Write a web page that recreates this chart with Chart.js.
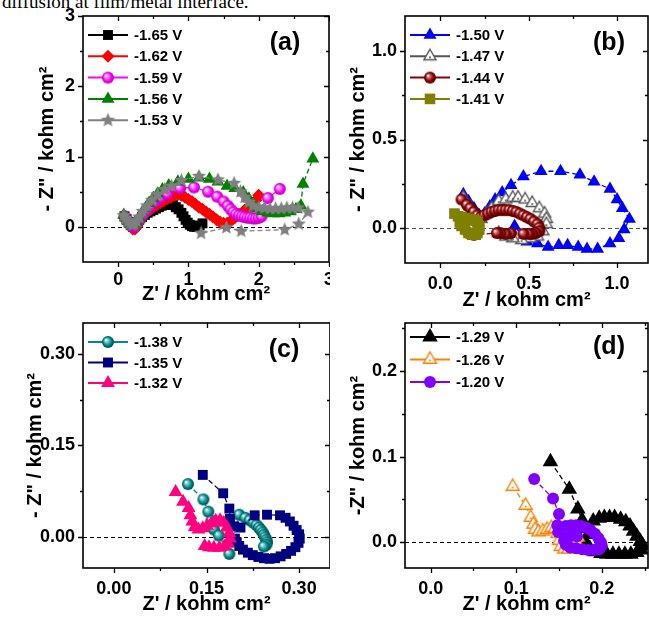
<!DOCTYPE html>
<html>
<head>
<meta charset="utf-8">
<title>Impedance spectra</title>
<script src="https://cdn.jsdelivr.net/npm/chart.js@4.4.1/dist/chart.umd.min.js"></script>
<style>
  html, body { margin: 0; padding: 0; background: #fff; }
  body { width: 649px; height: 618px; position: relative; overflow: hidden; }
  .cap { position: absolute; left: 2px; top: -8px; font: 19px 'Liberation Serif', 'Times New Roman', serif; line-height: 20px; color: #000; white-space: nowrap; }
  canvas { position: absolute; }
</style>
</head>
<body>
<div class="cap">diffusion at film/metal interface.</div>
<canvas id="chartA" width="330" height="320" style="left:0;top:0"></canvas>
<canvas id="chartB" width="319" height="320" style="left:330px;top:0"></canvas>
<canvas id="chartC" width="330" height="318" style="left:0;top:300px"></canvas>
<canvas id="chartD" width="319" height="318" style="left:330px;top:300px"></canvas>
<script>
// ---------- data: [Z', -Z''] in kohm cm2 ----------

// panel (a)
const namesA = ['-1.65 V', '-1.62 V', '-1.59 V', '-1.56 V', '-1.53 V'];
const a165 = [[0.09,0.15],[0.12,0.11],[0.15,0.07],[0.18,0.03],[0.21,0.0],[0.24,0.01],[0.27,0.05],[0.3,0.1],[0.34,0.14],[0.38,0.17],[0.42,0.2],[0.46,0.22],[0.5,0.24],[0.54,0.26],[0.58,0.28],[0.62,0.3],[0.66,0.31],[0.7,0.32],[0.74,0.33],[0.78,0.31],[0.82,0.28],[0.86,0.25],[0.9,0.2],[0.93,0.15],[0.96,0.1],[0.99,0.06],[1.02,0.03],[1.05,0.01],[1.08,0.0],[1.12,0.0],[1.16,0.02],[1.2,0.05]];
const a162 = [[0.09,0.13],[0.12,0.09],[0.15,0.05],[0.18,0.0],[0.21,-0.03],[0.24,-0.03],[0.27,0.01],[0.3,0.07],[0.34,0.13],[0.38,0.18],[0.42,0.22],[0.46,0.25],[0.5,0.28],[0.55,0.31],[0.6,0.34],[0.65,0.37],[0.7,0.4],[0.75,0.42],[0.8,0.45],[0.85,0.46],[0.9,0.45],[0.95,0.42],[1.0,0.39],[1.05,0.36],[1.1,0.32],[1.15,0.28],[1.2,0.25],[1.25,0.21],[1.3,0.18],[1.35,0.14],[1.4,0.1],[1.45,0.07],[1.5,0.05],[1.55,0.05],[1.6,0.08],[1.66,0.13],[1.72,0.18],[1.8,0.24],[1.88,0.3],[1.96,0.38],[2.0,0.45]];
const a159 = [[0.09,0.15],[0.12,0.1],[0.15,0.06],[0.18,0.02],[0.21,0.0],[0.24,0.01],[0.27,0.05],[0.31,0.11],[0.35,0.17],[0.4,0.23],[0.46,0.3],[0.53,0.36],[0.6,0.41],[0.7,0.47],[0.88,0.55],[1.08,0.56],[1.28,0.5],[1.41,0.43],[1.5,0.36],[1.56,0.3],[1.6,0.25],[1.64,0.21],[1.68,0.18],[1.72,0.16],[1.76,0.15],[1.8,0.14],[1.84,0.13],[1.88,0.13],[1.92,0.12],[1.96,0.12],[2.0,0.13],[2.04,0.15],[2.13,0.41],[2.3,0.54]];
const a156 = [[0.08,0.17],[0.11,0.13],[0.14,0.08],[0.17,0.04],[0.2,0.02],[0.23,0.03],[0.26,0.07],[0.3,0.13],[0.34,0.2],[0.39,0.27],[0.44,0.34],[0.5,0.41],[0.56,0.47],[0.63,0.53],[0.72,0.59],[0.85,0.64],[1.0,0.68],[1.15,0.7],[1.3,0.68],[1.42,0.64],[1.55,0.58],[1.66,0.55],[1.78,0.49],[1.86,0.4],[1.92,0.32],[1.98,0.26],[2.05,0.22],[2.13,0.2],[2.21,0.19],[2.29,0.19],[2.37,0.2],[2.45,0.22],[2.53,0.25],[2.6,0.3],[2.63,0.61],[2.77,0.97]];
const a153 = [[0.08,0.16],[0.11,0.12],[0.14,0.08],[0.17,0.05],[0.2,0.03],[0.23,0.04],[0.26,0.08],[0.3,0.14],[0.35,0.22],[0.41,0.3],[0.48,0.38],[0.56,0.46],[0.66,0.53],[0.76,0.58],[0.9,0.66],[1.15,0.72],[1.42,0.67],[1.65,0.62],[1.74,0.5],[1.8,0.42],[1.86,0.35],[1.92,0.3],[2.0,0.28],[2.08,0.27],[2.16,0.26],[2.24,0.26],[2.32,0.26],[2.4,0.27],[2.48,0.27],[2.56,0.27],[2.7,0.21],[2.57,0.04],[2.37,-0.04],[1.75,-0.06],[1.54,-0.01],[1.18,-0.09]];

// panel (b)
const namesB = ['-1.50 V', '-1.47 V', '-1.44 V', '-1.41 V'];
const b150 = [[0.13,0.19],[0.16,0.15],[0.19,0.11],[0.22,0.07],[0.25,0.08],[0.28,0.12],[0.31,0.16],[0.35,0.2],[0.4,0.24],[0.47,0.29],[0.57,0.32],[0.68,0.32],[0.79,0.3],[0.87,0.26],[0.96,0.22],[1.0,0.16],[1.03,0.11],[1.07,0.05],[1.04,-0.01],[1.01,-0.06],[0.96,-0.09],[0.89,-0.12],[0.83,-0.12],[0.78,-0.11],[0.72,-0.1],[0.67,-0.1],[0.61,-0.11],[0.55,-0.09],[0.49,-0.08],[0.42,0.01]];
const b147 = [[0.13,0.17],[0.17,0.12],[0.2,0.07],[0.23,0.05],[0.26,0.08],[0.29,0.11],[0.33,0.15],[0.37,0.16],[0.41,0.17],[0.44,0.17],[0.48,0.16],[0.52,0.14],[0.56,0.11],[0.59,0.08],[0.6,0.05],[0.6,0.02],[0.58,-0.02],[0.55,-0.05],[0.51,-0.06],[0.46,-0.07],[0.41,-0.06],[0.37,-0.05],[0.33,-0.03]];
const b144 = [[0.12,0.16],[0.15,0.13],[0.17,0.11],[0.19,0.09],[0.21,0.07],[0.23,0.06],[0.25,0.07],[0.27,0.08],[0.29,0.09],[0.31,0.095],[0.33,0.1],[0.35,0.1],[0.37,0.1],[0.39,0.1],[0.41,0.095],[0.43,0.09],[0.45,0.08],[0.47,0.07],[0.49,0.06],[0.51,0.05],[0.53,0.035],[0.55,0.02],[0.56,0.0],[0.56,-0.02],[0.54,-0.03],[0.52,-0.035],[0.5,-0.035],[0.47,-0.035],[0.4,-0.03],[0.37,-0.035],[0.34,-0.03],[0.32,-0.03],[0.19,-0.04],[0.16,-0.03]];
const b141 = [[0.08,0.08],[0.1,0.065],[0.12,0.06],[0.14,0.055],[0.16,0.05],[0.18,0.045],[0.2,0.04],[0.21,0.03],[0.22,0.01],[0.22,-0.01],[0.21,-0.03],[0.2,-0.04],[0.18,-0.04],[0.16,-0.03],[0.14,-0.01],[0.12,0.01],[0.11,0.03]];

// panel (c)
const namesC = ['-1.38 V', '-1.35 V', '-1.32 V'];
const c138 = [[0.12,0.087],[0.145,0.062],[0.153,0.042],[0.158,0.027],[0.162,0.013],[0.17,0.003],[0.187,-0.027],[0.203,0.037],[0.213,0.032],[0.22,0.028],[0.226,0.024],[0.231,0.02],[0.235,0.016],[0.238,0.012],[0.241,0.008],[0.243,0.004],[0.245,0.0],[0.247,-0.004],[0.248,-0.008],[0.247,-0.012],[0.243,-0.015]];
const c135 = [[0.144,0.102],[0.177,0.072],[0.187,0.047],[0.188,0.03],[0.195,0.018],[0.205,0.016],[0.228,0.036],[0.248,0.037],[0.269,0.036],[0.278,0.032],[0.285,0.026],[0.291,0.019],[0.296,0.012],[0.3,0.005],[0.301,-0.002],[0.299,-0.009],[0.294,-0.016],[0.287,-0.022],[0.279,-0.027],[0.27,-0.031],[0.261,-0.034],[0.252,-0.035],[0.243,-0.034],[0.234,-0.032],[0.225,-0.029],[0.217,-0.025],[0.209,-0.02],[0.203,-0.014],[0.199,-0.008],[0.196,-0.002]];
const c132 = [[0.1,0.074],[0.112,0.058],[0.121,0.048],[0.124,0.036],[0.127,0.026],[0.131,0.017],[0.137,0.013],[0.144,0.015],[0.151,0.019],[0.158,0.023],[0.165,0.027],[0.172,0.028],[0.178,0.024],[0.183,0.016],[0.187,0.007],[0.188,-0.002],[0.185,-0.01],[0.179,-0.015],[0.171,-0.017],[0.162,-0.017],[0.154,-0.016],[0.147,-0.014]];

// panel (d)
const namesD = ['-1.29 V', '-1.26 V', '-1.20 V'];
const d129 = [[0.14,0.094],[0.162,0.062],[0.172,0.039],[0.177,0.026],[0.18,0.016],[0.184,0.009],[0.19,0.025],[0.197,0.028],[0.203,0.029],[0.209,0.029],[0.215,0.029],[0.222,0.027],[0.228,0.024],[0.233,0.019],[0.237,0.013],[0.241,0.007],[0.245,0.001],[0.248,-0.004],[0.246,-0.009],[0.241,-0.012],[0.234,-0.014],[0.227,-0.014],[0.22,-0.014],[0.213,-0.014],[0.206,-0.014],[0.199,-0.013],[0.192,-0.011],[0.186,-0.007],[0.182,-0.002]];
const d126 = [[0.096,0.065],[0.111,0.043],[0.117,0.029],[0.12,0.021],[0.122,0.015],[0.126,0.012],[0.131,0.013],[0.136,0.015],[0.141,0.017],[0.145,0.016],[0.148,0.01],[0.15,0.002],[0.152,-0.005],[0.156,-0.008],[0.161,-0.008],[0.166,-0.005],[0.17,0.001],[0.172,0.006]];
const d120 = [[0.121,0.074],[0.143,0.051],[0.15,0.033],[0.148,0.02],[0.149,0.012],[0.153,0.016],[0.158,0.019],[0.164,0.02],[0.17,0.02],[0.176,0.019],[0.182,0.017],[0.187,0.014],[0.192,0.01],[0.196,0.005],[0.199,0.0],[0.2,-0.004],[0.197,-0.008],[0.191,-0.009],[0.184,-0.009],[0.177,-0.008],[0.17,-0.007],[0.163,-0.006],[0.158,-0.003],[0.156,0.002],[0.16,0.006],[0.166,0.008],[0.171,0.007]];

// axis ticks
const xTicksA = [0, 1, 2, 3],        xMinorA = [0.5, 1.5, 2.5];
const yTicksA = [0, 1, 2, 3],        yMinorA = [0.5, 1.5, 2.5];
const xTicksB = [0, 0.5, 1.0],       xMinorB = [0.25, 0.75];
const yTicksB = [0, 0.5, 1.0],       yMinorB = [0.25, 0.75];
const xTicksC = [0, 0.15, 0.30],     xMinorC = [0.075, 0.225];
const yTicksC = [0, 0.15, 0.30],     yMinorC = [0.075, 0.225];
const xTicksD = [0, 0.1, 0.2],       xMinorD = [0.05, 0.15, 0.25];
const yTicksD = [0, 0.1, 0.2],       yMinorD = [0.05, 0.15, 0.25];

// ---------- marker images ----------
const FONT = "'Liberation Sans', Arial, sans-serif";

function sphere(light, base, dark, r) {
  const c = document.createElement('canvas');
  c.width = c.height = 2 * r + 2;
  const g = c.getContext('2d');
  const m = r + 1;
  const grad = g.createRadialGradient(m - r * 0.35, m - r * 0.35, r * 0.05, m, m, r);
  grad.addColorStop(0, '#ffffff');
  grad.addColorStop(0.25, light);
  grad.addColorStop(0.65, base);
  grad.addColorStop(1, dark);
  g.fillStyle = grad;
  g.beginPath(); g.arc(m, m, r, 0, Math.PI * 2); g.fill();
  return c;
}

function star(fill, r) {
  const c = document.createElement('canvas');
  c.width = c.height = 2 * r + 2;
  const g = c.getContext('2d');
  const m = r + 1;
  g.fillStyle = fill;
  g.beginPath();
  for (let i = 0; i < 10; i++) {
    const rr = i % 2 ? r * 0.45 : r;
    const ang = -Math.PI / 2 + i * Math.PI / 5;
    g.lineTo(m + rr * Math.cos(ang), m + rr * Math.sin(ang));
  }
  g.closePath(); g.fill();
  return c;
}

function openTri(color, r) {
  const c = document.createElement('canvas');
  c.width = c.height = 2 * r + 4;
  const g = c.getContext('2d');
  const m = r + 2;
  g.fillStyle = '#fff'; g.strokeStyle = color; g.lineWidth = 1.4;
  g.beginPath();
  g.moveTo(m, m - r);
  g.lineTo(m + r * 0.866, m + r * 0.5);
  g.lineTo(m - r * 0.866, m + r * 0.5);
  g.closePath(); g.fill(); g.stroke();
  g.fillStyle = color;
  g.beginPath(); g.arc(m, m + 1, 1, 0, Math.PI * 2); g.fill();
  return c;
}

const ballMagenta = sphere('#ff9cff', '#ff00ff', '#b000b0', 6);
const ballMaroon = sphere('#d07070', '#8b0000', '#4a0000', 6);
const ballTeal = sphere('#7fd0d0', '#008b8b', '#004848', 6);
const starGray = star('#7f7f7f', 7.5);
const triGray = openTri('#555555', 7);
const triOrange = openTri('#ff8000', 7.5);

// ---------- panel layout ----------
const panels = [
  { id: 'chartA', w: 330, h: 320, area: { l: 83, t: 16, r: 329, b: 262 },
    xMin: -0.5, xMax: 3, yMin: -0.5, yMax: 3, dec: 0,
    xTicks: xTicksA, xMinor: xMinorA, yTicks: yTicksA, yMinor: yMinorA,
    yTitle: '- Z" / kohm cm²', yTitlePad: 35, xTitlePad: 14, xTickPad: 7,
    tag: '(a)', tagDx: 44, tagDy: 27, legY: 19, legGap: 21.3, zero: '#000',
    names: namesA,
    series: [
      { data: a165, color: '#000000', style: 'rect', r: 7 },
      { data: a162, color: '#ff0000', style: 'rectRot', r: 6.5 },
      { data: a159, color: '#ff00ff', style: ballMagenta, r: 6 },
      { data: a156, color: '#008000', style: 'triangle', r: 7.5 },
      { data: a153, color: '#808080', style: starGray, r: 7.5 }
    ] },
  { id: 'chartB', w: 319, h: 320, area: { l: 75, t: 16, r: 318, b: 263 },
    xMin: -0.2, xMax: 1.175, yMin: -0.2, yMax: 1.2, dec: 1,
    xTicks: xTicksB, xMinor: xMinorB, yTicks: yTicksB, yMinor: yMinorB,
    yTitle: '- Z" / kohm cm²', yTitlePad: 16, xTitlePad: 8, xTickPad: 10,
    tag: '(b)', tagDx: 39, tagDy: 27, legY: 19, legGap: 21.3, zero: '#555',
    names: namesB,
    series: [
      { data: b150, color: '#0000ff', style: 'triangle', r: 7.5 },
      { data: b147, color: '#555555', style: triGray, r: 7 },
      { data: b144, color: '#8b0000', style: ballMaroon, r: 6 },
      { data: b141, color: '#808000', style: 'rect', r: 7.5 }
    ] },
  { id: 'chartC', w: 330, h: 318, area: { l: 83, t: 23, r: 330, b: 268 },
    xMin: -0.05, xMax: 0.35, yMin: -0.05, yMax: 0.35, dec: 2,
    xTicks: xTicksC, xMinor: xMinorC, yTicks: yTicksC, yMinor: yMinorC,
    yTitle: '- Z" / kohm cm²', yTitlePad: 23, xTitlePad: 2, xTickPad: 10,
    tag: '(c)', tagDx: 46, tagDy: 27, legY: 19, legGap: 20.5, zero: '#000',
    names: namesC,
    series: [
      { data: c138, color: '#008b8b', style: ballTeal, r: 6 },
      { data: c135, color: '#000080', style: 'rect', r: 7 },
      { data: c132, color: '#ff0080', style: 'triangle', r: 8 }
    ] },
  { id: 'chartD', w: 319, h: 318, area: { l: 75, t: 23, r: 318, b: 268 },
    xMin: -0.03, xMax: 0.254, yMin: -0.03, yMax: 0.256, dec: 1,
    xTicks: xTicksD, xMinor: xMinorD, yTicks: yTicksD, yMinor: yMinorD,
    yTitle: '-Z" / kohm cm²', yTitlePad: 16, xTitlePad: 2, xTickPad: 10,
    tag: '(d)', tagDx: 39, tagDy: 24, legY: 14, legGap: 22.5, zero: '#000',
    names: namesD,
    series: [
      { data: d129, color: '#000000', style: 'triangle', r: 9 },
      { data: d126, color: '#ff8000', style: triOrange, r: 7.5 },
      { data: d120, color: '#8000ff', style: 'circle', r: 6 }
    ] }
];

// ---------- drawing helpers ----------
function drawMarker(ctx, ds, x, y) {
  ctx.save();
  ctx.setLineDash([]);
  ctx.fillStyle = ds.pointBackgroundColor;
  ctx.strokeStyle = ds.pointBorderColor;
  if (Chart.helpers && Chart.helpers.drawPoint) {
    Chart.helpers.drawPoint(ctx, { pointStyle: ds.pointStyle, radius: ds.pointRadius, rotation: 0, borderWidth: 0 }, x, y);
  } else if (ds.pointStyle instanceof HTMLCanvasElement) {
    ctx.drawImage(ds.pointStyle, x - ds.pointStyle.width / 2, y - ds.pointStyle.height / 2);
  } else {
    ctx.beginPath(); ctx.arc(x, y, ds.pointRadius, 0, Math.PI * 2); ctx.fill();
  }
  ctx.restore();
}

// frame with mirrored ticks, dashed zero line, legend and panel tag
const framePlugin = {
  id: 'frame',
  beforeDatasetsDraw(chart, args, o) {
    const { ctx, chartArea: a, scales: { y } } = chart;
    const y0 = Math.round(y.getPixelForValue(0)) + 0.5;
    ctx.save();
    ctx.strokeStyle = o.zero;
    ctx.lineWidth = 1;
    ctx.setLineDash([4, 3]);
    ctx.beginPath(); ctx.moveTo(a.left, y0); ctx.lineTo(a.right, y0); ctx.stroke();
    ctx.restore();
  },
  afterDraw(chart, args, o) {
    const { ctx, chartArea: a, scales: { x, y } } = chart;
    ctx.save();
    ctx.setLineDash([]);
    ctx.strokeStyle = '#000';
    ctx.lineWidth = 1.6;
    ctx.strokeRect(a.left, a.top, a.right - a.left, a.bottom - a.top);

    ctx.lineWidth = 1.3;
    ctx.beginPath();
    const xt = (vals, len) => vals.forEach(v => {
      const px = Math.round(x.getPixelForValue(v)) + 0.5;
      ctx.moveTo(px, a.bottom); ctx.lineTo(px, a.bottom + len);
      ctx.moveTo(px, a.top); ctx.lineTo(px, a.top + len);
    });
    const yt = (vals, len) => vals.forEach(v => {
      const py = Math.round(y.getPixelForValue(v)) + 0.5;
      ctx.moveTo(a.left - len, py); ctx.lineTo(a.left, py);
      ctx.moveTo(a.right - len, py); ctx.lineTo(a.right, py);
    });
    xt(o.xTicks, 5); xt(o.xMinor, 3);
    yt(o.yTicks, 5); yt(o.yMinor, 3);
    ctx.stroke();

    // legend: line + marker + label
    chart.data.datasets.forEach((ds, i) => {
      const ly = a.top + o.legY + i * o.legGap;
      const lx = a.left + 5;
      ctx.setLineDash([]);
      ctx.strokeStyle = ds.borderColor;
      ctx.lineWidth = 2;
      ctx.beginPath(); ctx.moveTo(lx, ly); ctx.lineTo(lx + 40, ly); ctx.stroke();
      drawMarker(ctx, ds, lx + 20, ly);
      ctx.fillStyle = '#000';
      ctx.font = 'bold 15px ' + FONT;
      ctx.textAlign = 'left';
      ctx.textBaseline = 'middle';
      ctx.fillText(ds.label, lx + 46, ly + 1);
    });

    ctx.font = 'bold 25px ' + FONT;
    ctx.textAlign = 'center';
    ctx.textBaseline = 'middle';
    ctx.fillStyle = '#000';
    ctx.fillText(o.tag, a.right - o.tagDx, a.top + o.tagDy);
    ctx.restore();
  }
};

function makeChart(p) {
  const tickFont = { family: FONT, size: 18, weight: 'bold' };
  const titleFont = { family: FONT, size: 20, weight: 'bold', lineHeight: 1.2 };
  const datasets = p.series.map((s, i) => ({
    label: p.names[i],
    data: s.data.map(pt => ({ x: pt[0], y: pt[1] })),
    showLine: true,
    borderColor: s.color,
    borderWidth: 1.3,
    borderDash: [5, 3],
    pointStyle: s.style,
    pointRadius: s.r,
    pointBackgroundColor: s.color,
    pointBorderColor: s.color,
    pointBorderWidth: 0,
    order: p.series.length - i
  }));

  new Chart(document.getElementById(p.id), {
    type: 'scatter',
    data: { datasets },
    plugins: [framePlugin],
    options: {
      responsive: false,
      animation: false,
      events: [],
      layout: {
        autoPadding: false,
        padding: { left: 0, top: p.area.t, right: p.w - p.area.r, bottom: 0 }
      },
      plugins: {
        legend: { display: false },
        tooltip: { enabled: false },
        frame: {
          zero: p.zero, tag: p.tag, tagDx: p.tagDx, tagDy: p.tagDy,
          legY: p.legY, legGap: p.legGap,
          xTicks: p.xTicks, xMinor: p.xMinor, yTicks: p.yTicks, yMinor: p.yMinor
        }
      },
      scales: {
        x: {
          type: 'linear', position: 'bottom', min: p.xMin, max: p.xMax,
          grid: { display: false, drawTicks: false, tickLength: 0 }, border: { display: false },
          ticks: { font: tickFont, color: '#000', padding: p.xTickPad, autoSkip: false, maxRotation: 0,
                   callback: v => v.toFixed(p.dec) },
          afterBuildTicks: sc => { sc.ticks = p.xTicks.map(v => ({ value: v })); },
          afterFit: sc => {
            sc.height = p.h - p.area.b;
            sc.paddingLeft = 0; sc.paddingRight = 0;
          },
          title: { display: true, text: "Z' / kohm cm²", color: '#000', font: titleFont,
                   padding: { top: 0, bottom: p.xTitlePad } }
        },
        y: {
          type: 'linear', position: 'left', min: p.yMin, max: p.yMax,
          grid: { display: false, drawTicks: false, tickLength: 0 }, border: { display: false },
          ticks: { font: tickFont, color: '#000', padding: 8, autoSkip: false,
                   callback: v => v.toFixed(p.dec) },
          afterBuildTicks: sc => { sc.ticks = p.yTicks.map(v => ({ value: v })); },
          afterFit: sc => {
            sc.width = p.area.l;
            sc.paddingTop = 0; sc.paddingBottom = 0;
          },
          title: { display: true, text: p.yTitle, color: '#000', font: titleFont,
                   padding: { top: p.yTitlePad, bottom: 0 } }
        }
      }
    }
  });
}

panels.forEach(makeChart);
</script>
</body>
</html>
